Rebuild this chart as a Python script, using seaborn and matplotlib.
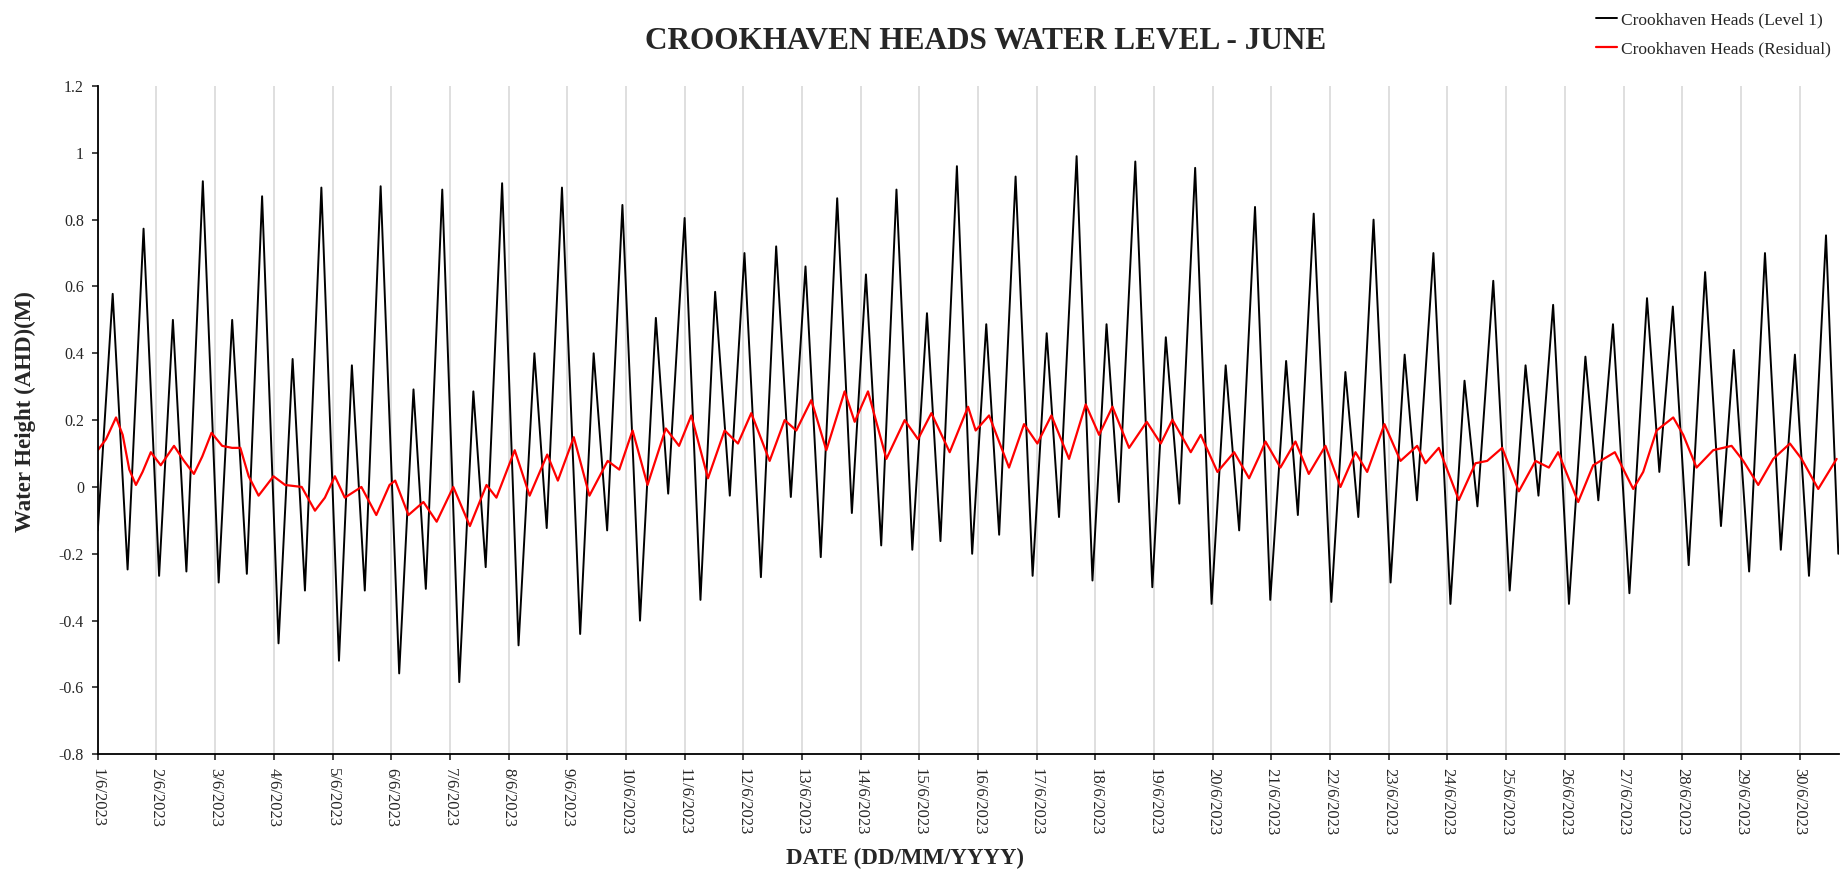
import numpy as np
import pandas as pd
import matplotlib
matplotlib.use("Agg")
import matplotlib.pyplot as plt
from matplotlib.ticker import FuncFormatter
import seaborn as sns

# Tide gauge high/low waters, June 2023 (days since 1/6/2023 00:00, metres AHD)
level_day = [
    0.0, 0.254, 0.508, 0.78, 1.045, 1.28, 1.51, 1.79, 2.06, 2.29, 2.54, 2.80, 3.08, 3.32, 3.53,
    3.81, 4.11, 4.33, 4.55, 4.82,
    5.136, 5.38, 5.59, 5.87, 6.16, 6.40, 6.61, 6.89, 7.17, 7.44, 7.65, 7.91, 8.22, 8.45, 8.68,
    8.94, 9.24, 9.51, 9.72,
    10.0, 10.27, 10.52, 10.77, 11.02, 11.30, 11.56, 11.81, 12.06, 12.32, 12.60, 12.85, 13.09,
    13.35, 13.61, 13.88, 14.13, 14.36, 14.64,
    14.90, 15.14, 15.36, 15.64, 15.93, 16.17, 16.38, 16.68, 16.95, 17.19, 17.40, 17.68, 17.97,
    18.20, 18.43, 18.70, 18.98, 19.22, 19.45, 19.72,
    19.98, 20.25, 20.45, 20.72, 21.02, 21.26, 21.48, 21.74, 22.03, 22.27, 22.48, 22.76, 23.05,
    23.29, 23.51, 23.78, 24.06, 24.33, 24.55,
    24.80, 25.07, 25.35, 25.57, 25.82, 26.10, 26.40, 26.61, 26.84, 27.11, 27.39, 27.66, 27.88,
    28.14, 28.41, 28.68, 28.92, 29.16, 29.45, 29.66,
]
level_m = [
    -0.13, 0.578, -0.247, 0.773, -0.266, 0.50, -0.253, 0.915, -0.286, 0.50, -0.26, 0.87, -0.468,
    0.383, -0.31, 0.896, -0.52, 0.364, -0.31, 0.90,
    -0.558, 0.292, -0.305, 0.89, -0.584, 0.286, -0.24, 0.909, -0.474, 0.40, -0.123, 0.896, -0.44,
    0.40, -0.13, 0.844, -0.40, 0.506, -0.02,
    0.805, -0.338, 0.584, -0.026, 0.70, -0.27, 0.72, -0.03, 0.66, -0.21, 0.864, -0.078, 0.636,
    -0.175, 0.89, -0.188, 0.52, -0.162, 0.96,
    -0.20, 0.487, -0.143, 0.929, -0.266, 0.46, -0.09, 0.99, -0.28, 0.487, -0.045, 0.974, -0.30,
    0.448, -0.05, 0.955, -0.35, 0.364, -0.13, 0.838,
    -0.338, 0.377, -0.084, 0.818, -0.344, 0.344, -0.09, 0.80, -0.286, 0.396, -0.04, 0.70, -0.35,
    0.318, -0.058, 0.617, -0.31, 0.364, -0.026,
    0.545, -0.35, 0.39, -0.04, 0.487, -0.318, 0.565, 0.045, 0.54, -0.234, 0.643, -0.117, 0.41,
    -0.253, 0.70, -0.188, 0.396, -0.266, 0.753, -0.20,
]

# Non-tidal residual
residual_day = [
    0.0, 0.141, 0.311, 0.424, 0.537, 0.650, 0.763, 0.904, 1.073, 1.299, 1.469, 1.638, 1.780,
    1.938, 2.119, 2.288, 2.429, 2.571, 2.740, 2.994, 3.192, 3.475, 3.701, 3.870, 4.040, 4.209,
    4.492, 4.746, 4.972,
    5.068, 5.294, 5.549, 5.775, 6.058, 6.341, 6.624, 6.793, 7.105, 7.359, 7.659, 7.840, 8.112,
    8.378, 8.689, 8.887, 9.113, 9.368, 9.679, 9.905,
    10.114, 10.398, 10.682, 10.909, 11.136, 11.449, 11.705, 11.903, 12.159, 12.415, 12.727,
    12.898, 13.125, 13.438, 13.750, 13.977, 14.205, 14.517, 14.830,
    14.960, 15.188, 15.528, 15.784, 16.011, 16.250, 16.551, 16.835, 17.063, 17.290, 17.574,
    17.875, 18.114, 18.313, 18.625, 18.795, 19.080, 19.364, 19.619, 19.790,
    19.898, 20.153, 20.409, 20.636, 20.920, 21.176, 21.432, 21.631, 21.926, 22.199, 22.483,
    22.625, 22.852, 23.193, 23.477, 23.676, 23.932, 24.216, 24.500, 24.727,
    24.886, 25.227, 25.483, 25.852, 26.165, 26.335, 26.563, 26.847, 27.017, 27.244, 27.528,
    27.841, 28.040, 28.295, 28.551, 28.835, 29.034, 29.318, 29.631,
]
residual_m = [
    0.11, 0.143, 0.208, 0.156, 0.052, 0.006, 0.045, 0.104, 0.065, 0.123, 0.078, 0.039, 0.091,
    0.162, 0.123, 0.117, 0.117, 0.032, -0.026, 0.032, 0.006, 0.0, -0.071, -0.032, 0.032, -0.032,
    0.0, -0.084, 0.006,
    0.019, -0.084, -0.045, -0.104, 0.0, -0.117, 0.006, -0.032, 0.11, -0.026, 0.097, 0.019, 0.149,
    -0.026, 0.078, 0.052, 0.169, 0.006, 0.175, 0.123,
    0.214, 0.026, 0.169, 0.13, 0.221, 0.078, 0.20, 0.169, 0.26, 0.11, 0.286, 0.195, 0.286, 0.084,
    0.20, 0.143, 0.221, 0.104, 0.24,
    0.169, 0.214, 0.058, 0.188, 0.13, 0.214, 0.084, 0.247, 0.156, 0.24, 0.117, 0.195, 0.13,
    0.201, 0.104, 0.156, 0.045, 0.104, 0.026, 0.091,
    0.136, 0.058, 0.136, 0.039, 0.123, 0.0, 0.104, 0.045, 0.188, 0.078, 0.123, 0.071, 0.117,
    -0.039, 0.071, 0.078, 0.117, -0.013, 0.078, 0.058,
    0.104, -0.045, 0.065, 0.104, -0.006, 0.045, 0.169, 0.208, 0.156, 0.058, 0.11, 0.123, 0.078,
    0.006, 0.084, 0.13, 0.084, -0.006, 0.084,
]

tick_days = list(range(30))
tick_labels = [f"{d + 1}/6/2023" for d in tick_days]
y_ticks = [-0.8, -0.6, -0.4, -0.2, 0.0, 0.2, 0.4, 0.6, 0.8, 1.0, 1.2]

level_label = "Crookhaven Heads (Level 1)"
residual_label = "Crookhaven Heads (Residual)"

sns.set_style("white")
plt.rcParams["font.family"] = ["Liberation Serif", "DejaVu Serif"]

fig = plt.figure(figsize=(18.45, 8.73), dpi=100)
ax = fig.add_axes([0.053, 0.136, 0.9437, 0.7655])

level_df = pd.DataFrame({"day": level_day, "m": level_m})
resid_df = pd.DataFrame({"day": residual_day, "m": residual_m})

sns.lineplot(data=level_df, x="day", y="m", ax=ax, color="black", lw=1.4,
             estimator=None, sort=False, label=level_label,
             solid_joinstyle="round")
sns.lineplot(data=resid_df, x="day", y="m", ax=ax, color="#ff0000", lw=1.6,
             estimator=None, sort=False, label=residual_label,
             solid_joinstyle="round")

ax.set_xlim(0, 29.67)
ax.set_ylim(-0.8, 1.2)
ax.set_xticks(tick_days)
ax.set_xticklabels(tick_labels, rotation=-90, fontsize=12)
ax.set_yticks(y_ticks)
ax.yaxis.set_major_formatter(FuncFormatter(lambda v, p: "%g" % (round(v, 1) + 0.0)))
ax.tick_params(axis="y", labelsize=11.5, length=4, width=1.2, pad=6, direction="out", left=True)
ax.tick_params(axis="x", length=4, width=1.2, pad=6, direction="out", bottom=True)

ax.grid(axis="x", color="#d9d9d9", lw=1.2)
ax.grid(axis="y", visible=False)
ax.set_axisbelow(True)

for side in ("top", "right"):
    ax.spines[side].set_visible(False)
for side in ("left", "bottom"):
    ax.spines[side].set_color("black")
    ax.spines[side].set_linewidth(1.3)

ax.set_xlabel("")
ax.set_ylabel("")

fig.text(0.5344, 0.953, "CROOKHAVEN HEADS WATER LEVEL - JUNE", ha="center", va="center",
         fontsize=22.5, fontweight="bold")
fig.text(0.4905, 0.017, "DATE (DD/MM/YYYY)", ha="center", va="center",
         fontsize=16.5, fontweight="bold")
fig.text(0.0135, 0.528, "Water Height (AHD)(M)", ha="center", va="center",
         rotation=90, fontsize=16.5, fontweight="bold")

ax.legend(loc="upper right", bbox_to_anchor=(0.999, 1.0), bbox_transform=fig.transFigure,
          frameon=False, fontsize=12.5, handlelength=1.2, handletextpad=0.25,
          labelspacing=0.75, borderaxespad=0.3)

fig.savefig("out.png", dpi=100, facecolor="white")
